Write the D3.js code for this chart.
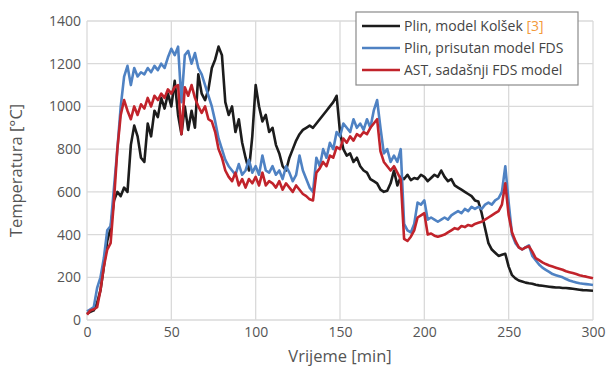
<!DOCTYPE html>
<html><head><meta charset="utf-8">
<script src="https://cdn.jsdelivr.net/npm/d3@7"></script>
<style>body{margin:0;background:#fff}svg{display:block}</style>
</head><body><svg id="c" width="608" height="372"></svg>
<script>
const times = [0,2,4,6,8,10,12,14,16,18,20,22,24,26,28,30,32,34,36,38,40,42,44,46,48,50,52,54,56,58,60,62,64,66,68,70,72,74,76,78,80,82,84,86,88,90,92,94,96,98,100,102,104,106,108,110,112,114,116,118,120,122,124,126,128,130,132,134,136,138,140,142,144,146,148,150,152,154,156,158,160,162,164,166,168,170,172,174,176,178,180,182,184,186,188,190,192,194,196,198,200,202,204,206,208,210,212,214,216,218,220,222,224,226,228,230,232,234,236,238,240,242,244,246,248,250,252,254,256,258,260,262,264,266,268,270,272,274,276,278,280,282,284,286,288,290,292,294,296,298,300];
const kolsek = [30,38,45,80,140,250,370,430,560,600,580,620,600,820,910,860,760,740,920,860,980,950,1040,990,1060,1000,1120,960,870,1000,890,980,900,1150,1060,1030,1080,1180,1220,1280,1240,1020,960,1000,880,940,830,760,700,860,1100,1000,930,960,880,900,820,780,720,700,760,800,840,870,890,900,910,900,920,940,960,980,1000,1020,1050,880,800,770,780,740,760,720,700,690,660,650,640,610,600,605,640,700,630,670,660,680,655,665,660,680,670,650,665,680,670,700,670,650,660,630,620,610,600,590,580,560,555,500,430,360,330,315,300,305,310,250,210,195,185,180,175,172,170,165,162,160,158,156,154,152,152,150,150,148,146,144,142,140,139,138,137];
const fdsOld = [40,50,60,150,200,290,420,440,620,800,1000,1140,1190,1100,1180,1140,1160,1150,1180,1160,1190,1170,1200,1180,1230,1270,1240,1280,1020,1240,1260,1200,1250,1180,1150,1100,1050,1000,930,850,800,750,720,700,680,730,680,700,750,690,720,680,770,700,690,720,680,700,660,720,690,650,680,770,700,660,620,600,760,720,800,760,830,800,880,860,920,900,880,940,900,920,890,940,900,980,1030,900,780,800,740,770,740,800,450,420,410,450,550,540,560,470,480,470,460,470,480,470,490,500,510,500,520,510,530,520,530,520,540,550,540,560,570,600,720,550,400,360,340,330,340,350,300,280,260,245,235,225,215,210,205,200,192,185,180,176,172,170,168,166,164];
const astNew = [25,45,50,60,140,250,330,360,560,800,960,1030,980,940,1000,960,1010,990,1040,1000,1050,1030,1060,1040,1080,1060,1090,1100,870,1090,1050,1100,1040,1000,970,1000,940,930,880,800,760,700,670,650,690,630,660,620,660,640,670,630,690,630,650,640,620,650,610,640,620,600,630,610,590,580,565,560,690,710,740,720,770,760,810,800,850,830,860,840,870,860,880,870,900,920,940,790,740,720,700,720,690,660,380,370,390,420,480,490,500,400,405,395,390,395,400,410,420,430,425,440,435,445,440,450,455,460,470,480,490,500,510,540,640,490,410,370,340,330,340,345,320,290,280,270,262,255,250,245,240,235,228,224,220,215,210,206,203,199,195];
const xTicks = [0,50,100,150,200,250,300];
const yTicks = [0,200,400,600,800,1000,1200,1400];
const seriesNames = ["Plin, model Kolšek ", "Plin, prisutan model FDS", "AST, sadašnji FDS model"];
const seriesColors = ["#1c1c1c", "#4f82c3", "#c1232b"];

const svg = d3.select("#c");
const L = 87, R = 593, T = 21, B = 320;
const x = d3.scaleLinear().domain([0,300]).range([L,R]);
const y = d3.scaleLinear().domain([0,1400]).range([B,T]);
const font = "'Open Sans', 'Noto Sans', sans-serif";
const txt = "#555";

// grid
svg.append("g").selectAll("line").data(yTicks).join("line")
  .attr("x1",L).attr("x2",R).attr("y1",d=>y(d)).attr("y2",d=>y(d))
  .attr("stroke","#dadada").attr("stroke-width",1.3);
svg.append("g").selectAll("line").data(xTicks).join("line")
  .attr("y1",T).attr("y2",B).attr("x1",d=>x(d)).attr("x2",d=>x(d))
  .attr("stroke","#dadada").attr("stroke-width",1.3);

// axes
const ax = svg.append("g").attr("transform",`translate(0,${B})`)
  .call(d3.axisBottom(x).tickValues(xTicks).tickFormat(d3.format("d")).tickSize(0).tickPadding(7));
ax.select(".domain").remove();
ax.selectAll("text").attr("font-family",font).attr("font-size",14).attr("fill",txt);
const ay = svg.append("g").attr("transform",`translate(${L},0)`)
  .call(d3.axisLeft(y).tickValues(yTicks).tickFormat(d3.format("d")).tickSize(0).tickPadding(6));
ay.select(".domain").remove();
ay.selectAll("text").attr("font-family",font).attr("font-size",14).attr("fill",txt);

// lines
const line = d3.line().x((d,i)=>x(times[i])).y(d=>y(d));
[kolsek, fdsOld, astNew].forEach((s,k)=>{
  svg.append("path").datum(s).attr("d",line).attr("fill","none")
    .attr("stroke",seriesColors[k]).attr("stroke-width",2.6).attr("stroke-linejoin","round");
});

// axis titles
svg.append("text").attr("x",(L+R)/2).attr("y",362).attr("text-anchor","middle")
  .attr("font-family",font).attr("font-size",16.5).attr("fill",txt).text("Vrijeme [min]");
svg.append("text").attr("transform",`translate(22,${(T+B)/2}) rotate(-90)`).attr("text-anchor","middle")
  .attr("font-family",font).attr("font-size",16.5).attr("fill",txt).text("Temperatura [°C]");

// legend
const lg = svg.append("g");
lg.append("rect").attr("x",356).attr("y",12).attr("width",222).attr("height",73)
  .attr("fill","#fff").attr("stroke","#8a8a8a").attr("stroke-width",1.2);
seriesNames.forEach((n,i)=>{
  const yy = 26 + i*22;
  lg.append("line").attr("x1",362).attr("x2",400).attr("y1",yy).attr("y2",yy)
    .attr("stroke",seriesColors[i]).attr("stroke-width",2.6);
  const t = lg.append("text").attr("x",404).attr("y",yy+5).attr("font-family",font)
    .attr("font-size",14).attr("fill","#444").text(n);
  if(i===0) t.append("tspan").attr("fill","#f39a3c").text("[3]");
});
</script></body></html>
